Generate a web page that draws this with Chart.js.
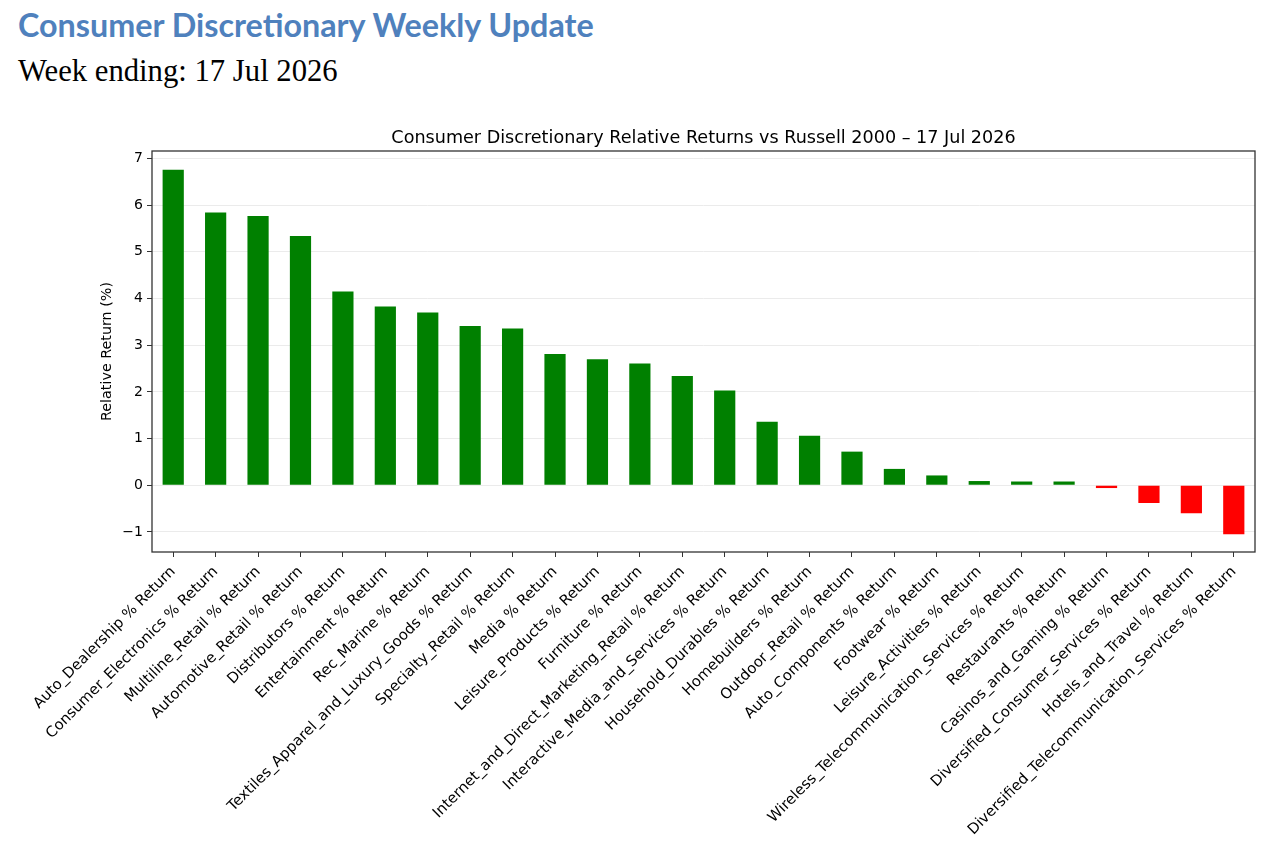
<!DOCTYPE html>
<html>
<head>
  <meta charset="UTF-8">
  <title>Consumer Discretionary Weekly Update</title>
  <script src="https://cdn.jsdelivr.net/npm/chart.js"></script>
  <style>
    body {
      margin: 0;
      background: #fff;
      width: 1278px;
      height: 858px;
      overflow: hidden;
      position: relative;
    }
    h1 {
      position: absolute;
      left: 18px;
      top: 5px;
      margin: 0;
      font-family: Lato, sans-serif;
      font-weight: bold;
      font-size: 32.3px;
      color: #4f81bd;
      white-space: nowrap;
    }
    #week {
      position: absolute;
      left: 18px;
      top: 54px;
      margin: 0;
      font-family: 'Liberation Serif', serif;
      font-size: 30.7px;
      color: #000;
      white-space: nowrap;
    }
    #chart {
      position: absolute;
      left: 0;
      top: 0;
    }
  </style>
</head>
<body>
  <h1>Consumer Discretionary Weekly Update</h1>
  <div id="week">Week ending: 17 Jul 2026</div>
  <canvas id="chart" width="1278" height="858"></canvas>

  <script>
    const categories = [
      'Auto_Dealership % Return',
      'Consumer_Electronics % Return',
      'Multiline_Retail % Return',
      'Automotive_Retail % Return',
      'Distributors % Return',
      'Entertainment % Return',
      'Rec_Marine % Return',
      'Textiles_Apparel_and_Luxury_Goods % Return',
      'Specialty_Retail % Return',
      'Media % Return',
      'Leisure_Products % Return',
      'Furniture % Return',
      'Internet_and_Direct_Marketing_Retail % Return',
      'Interactive_Media_and_Services % Return',
      'Household_Durables % Return',
      'Homebuilders % Return',
      'Outdoor_Retail % Return',
      'Auto_Components % Return',
      'Footwear % Return',
      'Leisure_Activities % Return',
      'Wireless_Telecommunication_Services % Return',
      'Restaurants % Return',
      'Casinos_and_Gaming % Return',
      'Diversified_Consumer_Services % Return',
      'Hotels_and_Travel % Return',
      'Diversified_Telecommunication_Services % Return'
    ];

    const relativeReturns = [
      6.76, 5.84, 5.77, 5.34, 4.15, 3.83, 3.70, 3.41, 3.36, 2.81,
      2.70, 2.61, 2.34, 2.03, 1.36, 1.06, 0.72, 0.35, 0.21, 0.09,
      0.08, 0.08, -0.06, -0.38, -0.60, -1.05
    ];

    const yTicks = [-1, 0, 1, 2, 3, 4, 5, 6, 7];

    const chartTitle = 'Consumer Discretionary Relative Returns vs Russell 2000 – 17 Jul 2026';

    const tickFont = { family: "'DejaVu Sans', sans-serif", size: 14 };

    // axes frame plus a title centred over the plot area (matplotlib style)
    const frame = {
      id: 'frame',
      afterDraw(chart) {
        const { ctx, chartArea: a } = chart;
        ctx.save();
        ctx.strokeStyle = '#333';
        ctx.lineWidth = 1.3;
        ctx.strokeRect(a.left, a.top, a.right - a.left, a.bottom - a.top);
        ctx.fillStyle = '#000';
        ctx.font = "17.6px 'DejaVu Sans', sans-serif";
        ctx.textAlign = 'center';
        ctx.textBaseline = 'alphabetic';
        ctx.fillText(chartTitle, (a.left + a.right) / 2, a.top - 8.5);
        ctx.restore();
      }
    };

    new Chart(document.getElementById('chart'), {
      type: 'bar',
      data: {
        labels: categories,
        datasets: [{
          data: relativeReturns,
          backgroundColor: relativeReturns.map(v => v >= 0 ? '#008000' : '#ff0000'),
          barPercentage: 0.5,
          categoryPercentage: 1.0
        }]
      },
      options: {
        responsive: false,
        animation: false,
        devicePixelRatio: 1,
        layout: { padding: { top: 151, right: 23, left: 99, bottom: 0 } },
        plugins: {
          legend: { display: false },
          tooltip: { enabled: false },
          title: { display: false }
        },
        scales: {
          x: {
            offset: true,
            grid: {
              offset: false,
              drawOnChartArea: false,
              tickColor: '#333',
              tickLength: 5
            },
            border: { display: false },
            ticks: {
              color: '#000',
              font: { family: "'DejaVu Sans', sans-serif", size: 14.8 },
              autoSkip: false,
              minRotation: 45,
              maxRotation: 45,
              padding: 6
            },
            afterFit(scale) { scale.height = 306; }
          },
          y: {
            min: -1.43,
            max: 7.16,
            afterBuildTicks(scale) {
              scale.ticks = yTicks.map(v => ({ value: v }));
            },
            grid: {
              color: '#ebebeb',
              tickColor: '#333',
              tickLength: 5
            },
            border: { display: false },
            ticks: {
              color: '#000',
              font: tickFont,
              padding: 4,
              callback: v => String(v).replace('-', '\u2212')
            },
            title: {
              display: true,
              text: 'Relative Return (%)',
              color: '#000',
              font: { family: "'DejaVu Sans', sans-serif", size: 14.3 },
              padding: { top: 0, bottom: 4 }
            },
            afterFit(scale) { scale.width = 53; }
          }
        }
      },
      plugins: [frame]
    });
  </script>
</body>
</html>
